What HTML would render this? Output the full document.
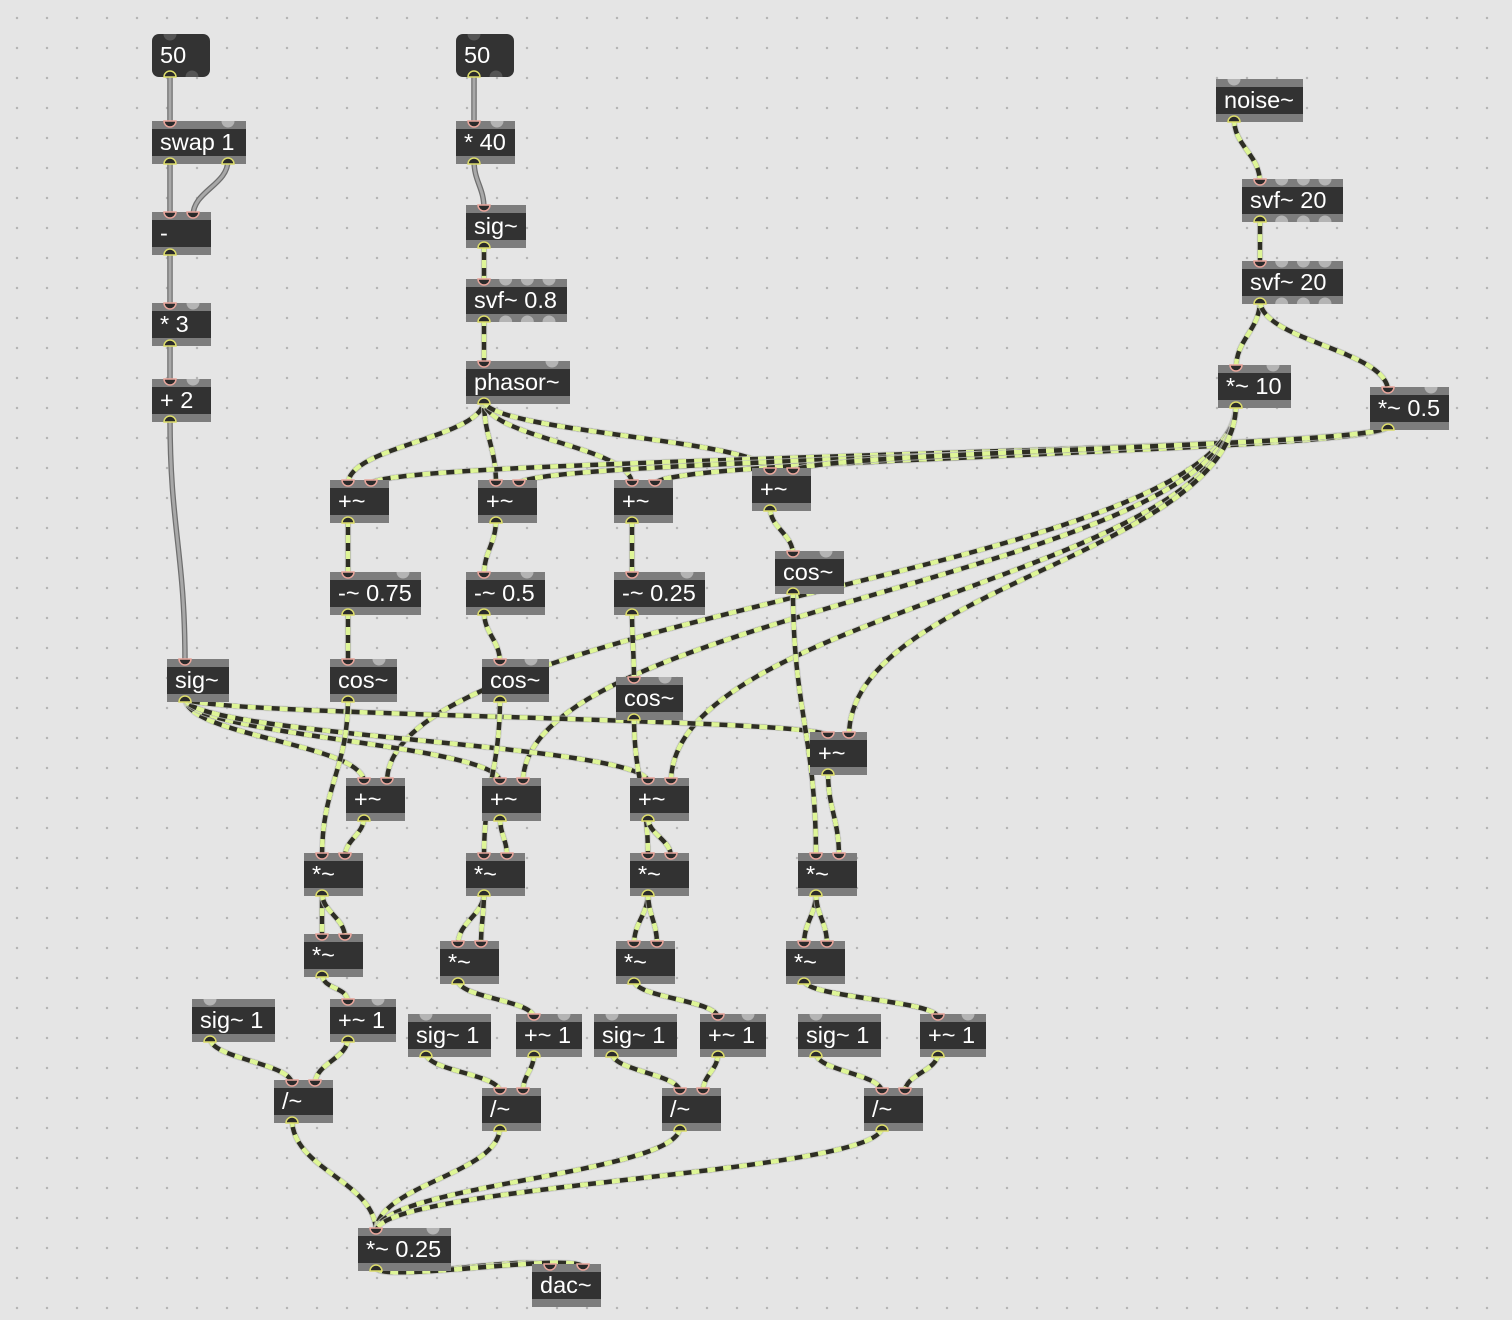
<!DOCTYPE html>
<html><head><meta charset="utf-8"><style>
html,body{margin:0;padding:0;width:1512px;height:1320px;overflow:hidden;background:#e5e5e5;}
body{background-color:#e5e5e5;background-image:radial-gradient(circle,#b5b5b5 1.1px,transparent 1.4px);background-size:30px 30px;background-position:2px 3px;}
svg{position:absolute;left:0;top:0;}
text{font-family:"Liberation Sans",Arial,sans-serif;font-size:23.5px;fill:#fff;}
</style></head><body>
<svg id="s" width="1512" height="1320" xmlns="http://www.w3.org/2000/svg"></svg>
<script>
const B={
n1:[152,34,58,'50',1,2,1],n2:[456,34,58,'50',1,2,1],
swap:[152,121,94,'swap 1',2,2],minus:[152,212,59,'-',2,1],m3:[152,303,59,'* 3',2,1],p2:[152,379,59,'+ 2',2,1],
m40:[456,121,59,'* 40',2,1],sig:[466,205,60,'sig~',1,1],svf:[466,279,101,'svf~ 0.8',4,4],ph:[466,361,104,'phasor~',2,1],
noise:[1216,79,87,'noise~',1,1],sa:[1242,179,101,'svf~ 20',4,4],sb:[1242,261,101,'svf~ 20',4,4],
t10:[1218,365,73,'*~ 10',2,1],t05:[1370,387,79,'*~ 0.5',2,1],
A:[330,480,59,'+~',2,1],Bp:[478,480,59,'+~',2,1],C:[614,480,59,'+~',2,1],D:[752,468,59,'+~',2,1],
cD:[775,551,69,'cos~',2,1],
s75:[330,572,91,'-~ 0.75',2,1],s5:[466,572,79,'-~ 0.5',2,1],s25:[614,572,91,'-~ 0.25',2,1],
cA:[330,659,67,'cos~',2,1],cB:[482,659,67,'cos~',2,1],cC:[616,677,67,'cos~',2,1],
sg:[167,659,62,'sig~',1,1],
H:[810,732,57,'+~',2,1],E:[346,778,59,'+~',2,1],F:[482,778,59,'+~',2,1],G:[630,778,59,'+~',2,1],
mA:[304,853,59,'*~',2,1],mB:[466,853,59,'*~',2,1],mC:[630,853,59,'*~',2,1],mD:[798,853,59,'*~',2,1],
qA:[304,934,59,'*~',2,1],qB:[440,941,59,'*~',2,1],qC:[616,941,59,'*~',2,1],qD:[786,941,59,'*~',2,1],
oA:[192,999,83,'sig~ 1',1,1],pA:[330,999,66,'+~ 1',2,1],
oB:[408,1014,83,'sig~ 1',1,1],pB:[516,1014,66,'+~ 1',2,1],
oC:[594,1014,83,'sig~ 1',1,1],pC:[700,1014,66,'+~ 1',2,1],
oD:[798,1014,83,'sig~ 1',1,1],pD:[920,1014,66,'+~ 1',2,1],
dA:[274,1080,59,'/~',2,1],dB:[482,1088,59,'/~',2,1],dC:[662,1088,59,'/~',2,1],dD:[864,1088,59,'/~',2,1],
out:[358,1228,93,'*~ 0.25',2,1],dac:[532,1264,69,'dac~',2,0]};
const H0=43;
const ctl=[['n1',0,'swap',0],['swap',0,'minus',0],['swap',1,'minus',1],['minus',0,'m3',0],['m3',0,'p2',0],['p2',0,'sg',0],['n2',0,'m40',0],['m40',0,'sig',0]];
const sig=[['sig',0,'svf',0],['svf',0,'ph',0],['ph',0,'A',0],['ph',0,'Bp',0],['ph',0,'C',0],['ph',0,'D',0],
['noise',0,'sa',0],['sa',0,'sb',0],['sb',0,'t10',0],['sb',0,'t05',0],
['t05',0,'A',1],['t05',0,'Bp',1],['t05',0,'C',1],['t05',0,'D',1],
['t10',0,'E',1],['t10',0,'F',1],['t10',0,'G',1],['t10',0,'H',1],
['A',0,'s75',0],['Bp',0,'s5',0],['C',0,'s25',0],['D',0,'cD',0],
['s75',0,'cA',0],['s5',0,'cB',0],['s25',0,'cC',0],
['sg',0,'E',0],['sg',0,'F',0],['sg',0,'G',0],['sg',0,'H',0],
['cA',0,'mA',0],['E',0,'mA',1],['cB',0,'mB',0],['F',0,'mB',1],['cC',0,'mC',0],['G',0,'mC',1],['cD',0,'mD',0],['H',0,'mD',1]];
for(const k of ['A','B','C','D']){sig.push(['m'+k,0,'q'+k,0],['m'+k,0,'q'+k,1],['q'+k,0,'p'+k,0],['o'+k,0,'d'+k,0],['p'+k,0,'d'+k,1],['d'+k,0,'out',0]);}
sig.push(['out',0,'dac',0],['out',0,'dac',1]);
function px(b,i,n){const[x,,w]=B[b];if(n<=1)return x+18;return x+18+i*(w-36)/(n-1);}
function outP(b,i){const o=B[b];return[px(b,i,o[5]),o[1]+H0-4];}
function inP(b,i){const o=B[b];return[px(b,i,o[4]),o[1]+4];}
let cords='',boxes='';const conIn={},conOut={};
function path(a,b){const[x1,y1]=a,[x2,y2]=b;const d=Math.max(18,Math.abs(y2-y1)*0.45);return`M${x1} ${y1} C${x1} ${y1+d} ${x2} ${y2-d} ${x2} ${y2}`;}
for(const[s,o,t,i]of ctl){const p=path(outP(s,o),inP(t,i));conIn[t+i]=1;conOut[s+o]=1;
cords+=`<path d="${p}" fill="none" stroke="#6f6f6f" stroke-width="5.5"/><path d="${p}" fill="none" stroke="#a8a8a8" stroke-width="3"/>`;}
for(const[s,o,t,i]of sig){const p=path(outP(s,o),inP(t,i));conIn[t+i]=1;conOut[s+o]=1;
cords+=`<path d="${p}" fill="none" stroke="#c8c8c8" stroke-width="6.5" opacity=".7"/><path d="${p}" fill="none" stroke="#2e2e24" stroke-width="4.5"/><path d="${p}" fill="none" stroke="#def597" stroke-width="4.5" stroke-dasharray="8 8"/>`;}
for(const k in B){const[x,y,w,t,ni,no,num]=B[k];
if(num){boxes+=`<rect x="${x}" y="${y}" width="${w}" height="${H0}" rx="7" fill="#333"/>`;}
else{boxes+=`<rect x="${x}" y="${y}" width="${w}" height="${H0}" fill="#7d7d7d"/><rect x="${x}" y="${y+8}" width="${w}" height="${H0-16}" fill="#323232"/>`;}
for(let i=0;i<ni;i++){const cx=px(k,i,ni);
if(conIn[k+i])boxes+=`<path d="M${cx-6} ${y} A6 6 0 0 0 ${cx+6} ${y}Z" fill="#2a2a2a" stroke="#e8a59b" stroke-width="1.5"/>`;
else boxes+=`<path d="M${cx-6.5} ${y} A6.5 6.5 0 0 0 ${cx+6.5} ${y}Z" fill="${num?'#555':'#b4b4b4'}"/>`;}
for(let i=0;i<no;i++){const cx=px(k,i,no),yy=y+H0;
if(conOut[k+i])boxes+=`<path d="M${cx-6} ${yy} A6 6 0 0 1 ${cx+6} ${yy}Z" fill="#2a2a2a" stroke="#dcdc6a" stroke-width="1.5"/>`;
else boxes+=`<path d="M${cx-6.5} ${yy} A6.5 6.5 0 0 1 ${cx+6.5} ${yy}Z" fill="${num?'#555':'#b4b4b4'}"/>`;}
boxes+=`<text x="${x+8}" y="${y+29}">${t}</text>`;}
document.getElementById('s').innerHTML=cords+boxes;
</script>
</body></html>
